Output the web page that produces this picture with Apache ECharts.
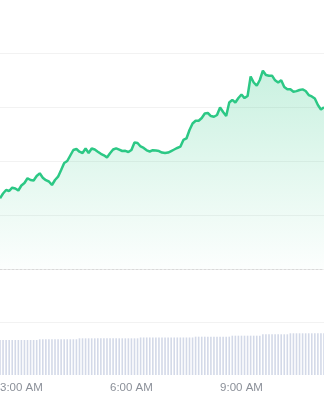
<!DOCTYPE html>
<html>
<head>
<meta charset="utf-8">
<script src="https://cdn.jsdelivr.net/npm/echarts@6/dist/echarts.min.js"></script>
<style>
html,body{margin:0;padding:0;background:#fff;}
#chart{width:324px;height:400px;}
</style>
</head>
<body>
<div id="chart"></div>
<script>
// 5-minute slots from 2:25 AM to 11:15 AM
var startMinute = 145; // 2:25 AM
var stepMinutes = 5;
var slotCount = 107;
var categories = [];
for (var i = 0; i < slotCount; i++) {
  var m = startMinute + i * stepMinutes;
  var h = Math.floor(m / 60), mm = m % 60;
  categories.push(h + ':' + (mm < 10 ? '0' : '') + mm);
}

// price (arbitrary units)
var prices = [
  13.09, 13.98, 14.63, 14.44, 15.06, 14.91, 14.54, 15.46, 15.93, 16.80,
  16.48, 16.39, 17.22, 17.72, 16.91, 16.44, 16.20, 15.56, 16.48, 17.09,
  18.33, 19.63, 20.00, 21.02, 22.04, 22.22, 21.72, 21.48, 22.31, 21.48,
  22.31, 22.13, 21.72, 21.33, 21.06, 20.65, 21.44, 22.13, 22.35, 22.11,
  21.85, 21.89, 21.67, 22.04, 23.43, 23.33, 22.69, 22.41, 21.98, 21.76,
  22.00, 21.94, 21.85, 21.57, 21.48, 21.57, 21.85, 22.13, 22.41, 22.65,
  23.89, 24.17, 25.74, 26.94, 27.46, 27.46, 27.96, 28.80, 28.89, 28.33,
  28.20, 28.52, 29.91, 29.07, 28.33, 30.83, 31.33, 30.83, 31.67, 32.31,
  31.65, 32.04, 35.65, 34.54, 33.94, 35.00, 36.72, 35.91, 35.80, 35.80,
  34.94, 34.52, 34.96, 33.70, 33.28, 33.28, 32.83, 32.94, 33.15, 33.26,
  32.96, 32.22, 31.96, 31.57, 30.37, 29.54, 29.94
];

// volume (arbitrary units)
var volumes = [
  66.0, 66.0, 66.0, 66.0, 66.0, 66.0, 66.0, 66.0, 66.0, 66.0,
  66.0, 66.0, 66.0, 67.4, 67.4, 67.4, 67.4, 67.4, 67.4, 67.4,
  67.4, 67.4, 67.4, 67.4, 67.4, 67.4, 69.2, 69.2, 69.2, 69.2,
  69.2, 69.2, 69.2, 69.2, 69.2, 69.2, 69.2, 69.2, 69.2, 69.2,
  69.2, 69.2, 69.2, 69.2, 69.2, 69.2, 70.8, 70.8, 70.8, 70.8,
  70.8, 70.8, 70.8, 70.8, 70.8, 70.8, 70.8, 70.8, 70.8, 70.8,
  70.8, 70.8, 70.8, 70.8, 72.3, 72.3, 72.3, 72.3, 72.3, 72.3,
  72.3, 72.3, 72.3, 72.3, 72.3, 72.3, 74.2, 74.2, 74.2, 74.2,
  74.2, 74.2, 74.2, 74.2, 74.2, 74.2, 76.8, 76.8, 76.8, 76.8,
  76.8, 76.8, 76.8, 76.8, 76.8, 78.7, 78.7, 78.7, 78.7, 78.7,
  78.7, 78.7, 78.7, 78.7, 78.7, 78.7, 78.7
];

var priceTicks = [0, 10, 20, 30, 40, 50];

function fmtLabel(v) {
  var p = v.split(':');
  var h = parseInt(p[0], 10);
  var ampm = h < 12 ? 'AM' : 'PM';
  var hh = h % 12 === 0 ? 12 : h % 12;
  return hh + ':' + p[1] + ' ' + ampm;
}

var chart = echarts.init(document.getElementById('chart'), null, {renderer: 'canvas'});
chart.setOption({
  animation: false,
  backgroundColor: '#ffffff',
  grid: [
    {left: 0, right: 0, top: -1, height: 270, containLabel: false, outerBoundsMode: 'none'},
    {left: 0, right: 0, top: 322, height: 53, containLabel: false, outerBoundsMode: 'none'}
  ],
  xAxis: [
    {
      type: 'category', gridIndex: 0, data: categories, boundaryGap: false,
      offset: 2,
      axisLine: {show: true, lineStyle: {color: '#d9d9d9', type: [2, 2], width: 1}},
      axisTick: {show: false}, axisLabel: {show: false}, splitLine: {show: false}
    },
    {
      type: 'category', gridIndex: 1, data: categories, boundaryGap: false,
      axisLine: {show: false}, axisTick: {show: false}, splitLine: {show: false},
      axisLabel: {
        show: true, margin: 7, color: '#8b9099', fontSize: 11.5,
        fontFamily: 'Liberation Sans, Arial, sans-serif',
        hideOverlap: false,
        interval: function (idx, val) {
          var p = val.split(':');
          return p[1] === '00' && parseInt(p[0], 10) % 3 === 0;
        },
        formatter: fmtLabel
      }
    }
  ],
  yAxis: [
    {
      type: 'value', gridIndex: 0, min: priceTicks[0], max: priceTicks[priceTicks.length - 1], interval: 10,
      axisLine: {show: false}, axisTick: {show: false}, axisLabel: {show: false},
      splitLine: {show: true, lineStyle: {color: '#f2f2f2', width: 1}}
    },
    {
      type: 'value', gridIndex: 1, min: 0, max: 100, interval: 100,
      axisLine: {show: false}, axisTick: {show: false}, axisLabel: {show: false},
      splitLine: {show: true, lineStyle: {color: ['rgba(0,0,0,0)', '#f2f2f2'], width: 1}}
    }
  ],
  series: [
    {
      type: 'line', xAxisIndex: 0, yAxisIndex: 0, data: prices,
      symbol: 'none', smooth: false,
      lineStyle: {color: '#2cc885', width: 2.5},
      areaStyle: {
        color: new echarts.graphic.LinearGradient(0, 0, 0, 1, [
          {offset: 0, color: 'rgba(44,200,133,0.36)'},
          {offset: 1, color: 'rgba(44,200,133,0.02)'}
        ])
      }
    },
    {
      type: 'bar', xAxisIndex: 1, yAxisIndex: 1, data: volumes,
      barWidth: 1.6, itemStyle: {color: '#d3d9e8'}
    }
  ]
});
</script>
</body>
</html>
